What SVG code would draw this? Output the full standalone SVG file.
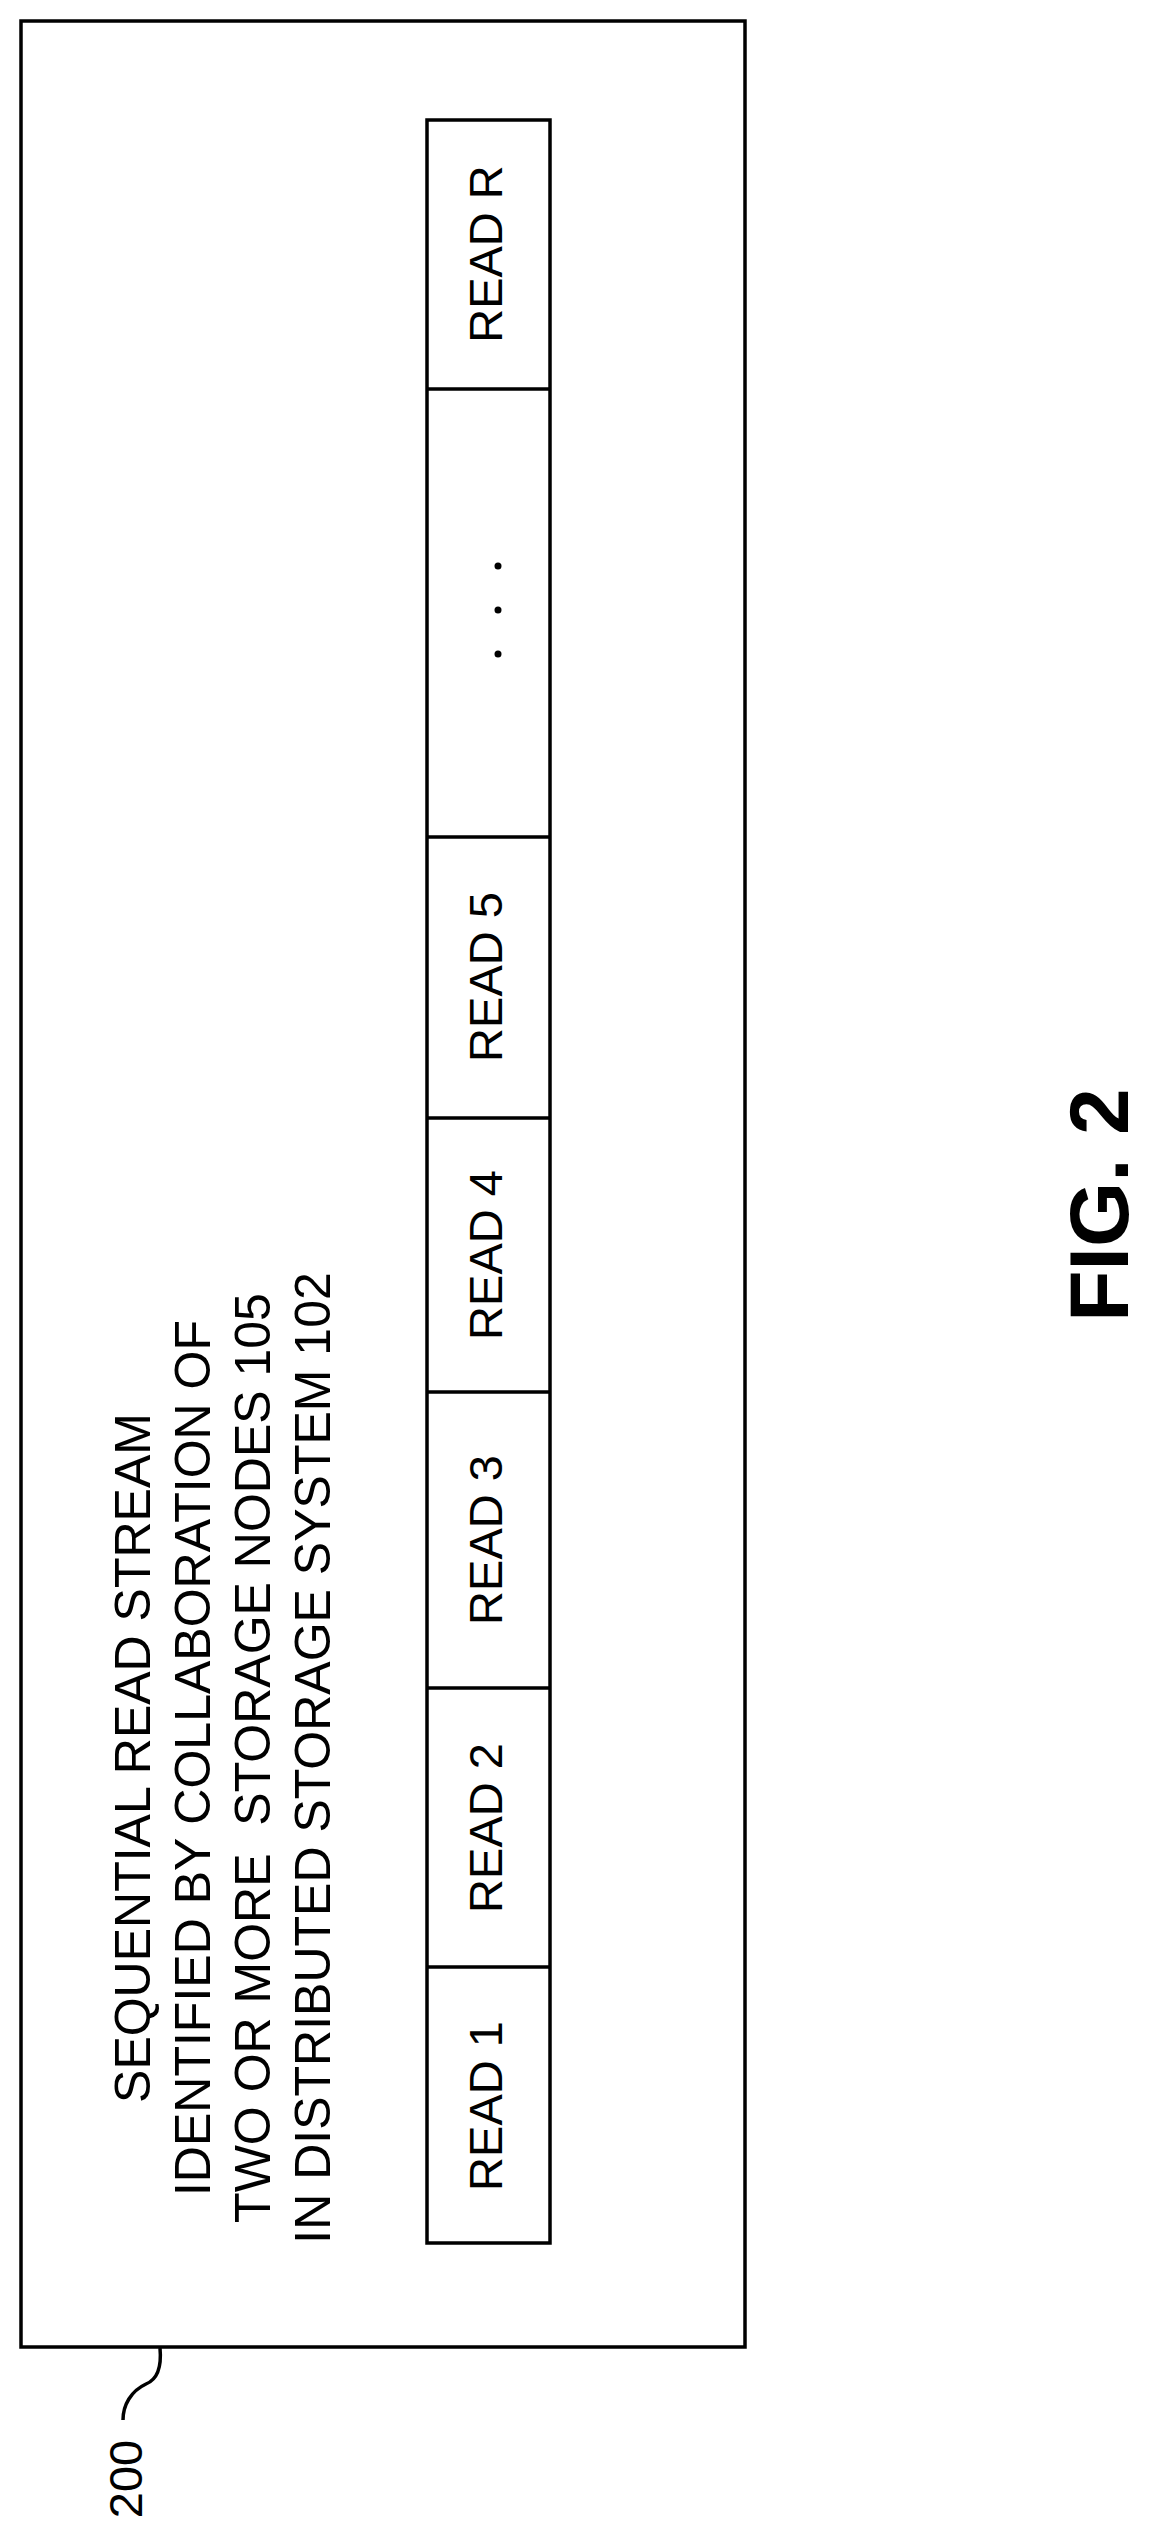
<svg xmlns="http://www.w3.org/2000/svg" width="1150" height="2539" viewBox="0 0 1150 2539">
<style>
.b{fill:none;stroke:#000;stroke-width:3.5}
.t{font-family:"Liberation Sans",Arial,sans-serif;fill:#000;text-anchor:middle}
.m{font-size:50px}
.r{font-size:47px}
</style>
<rect width="1150" height="2539" fill="#fff"/>
<g id="frame200">
<rect class="b" x="21" y="21" width="724" height="2326"/>
<g class="t m">
<text transform="translate(150,1758) rotate(-90)">SEQUENTIAL READ STREAM</text>
<text transform="translate(210,1758) rotate(-90)">IDENTIFIED BY COLLABORATION OF</text>
<text transform="translate(270,1758) rotate(-90)" xml:space="preserve">TWO OR MORE  STORAGE NODES 105</text>
<text transform="translate(330,1758) rotate(-90)">IN DISTRIBUTED STORAGE SYSTEM 102</text>
</g>
</g>
<g id="stream">
<rect class="b" x="427" y="120" width="123" height="2123"/>
<path class="b" stroke-width="2.5" d="M427 389H550M427 837H550M427 1118H550M427 1392H550M427 1688H550M427 1967H550"/>
<g class="t r">
<text transform="translate(502,2106) rotate(-90)">READ 1</text>
<text transform="translate(502,1828) rotate(-90)">READ 2</text>
<text transform="translate(502,1540) rotate(-90)">READ 3</text>
<text transform="translate(502,1255) rotate(-90)">READ 4</text>
<text transform="translate(502,977) rotate(-90)">READ 5</text>
<text transform="translate(502,254) rotate(-90)">READ R</text>
</g>
<g fill="#000"><circle cx="498" cy="566" r="3.5"/><circle cx="498" cy="610" r="3.5"/><circle cx="498" cy="654" r="3.5"/></g>
</g>
<g id="connectors">
<path class="b" d="M160 2348C162 2370 156 2380 146 2384C131 2391 123 2405 123 2420"/>
</g>
<g id="label200"><text class="t r" transform="translate(142,2479) rotate(-90)">200</text></g>
<g id="fig"><text class="t" font-size="84" font-weight="bold" transform="translate(1128,1205) rotate(-90)">FIG. 2</text></g>
</svg>
